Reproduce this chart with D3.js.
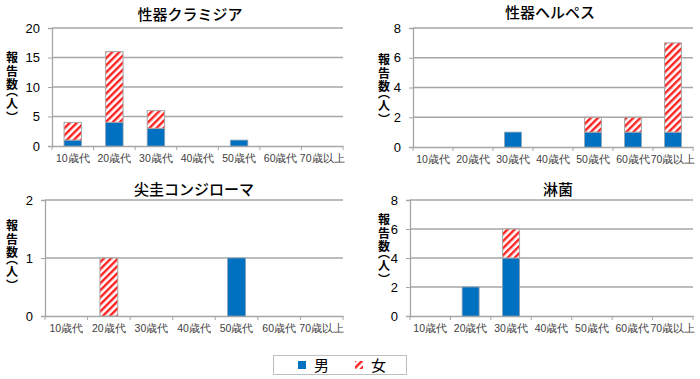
<!DOCTYPE html>
<html>
<head>
<meta charset="utf-8">
<script src="https://cdn.jsdelivr.net/npm/d3@7"></script>
<style>
  body { margin: 0; background: #fff; }
  svg { display: block; font-family: 'Noto Sans CJK JP', sans-serif; }
</style>
</head>
<body>
<svg id="chart" width="700" height="379"></svg>
<script>
const ageGroups = ['10歳代', '20歳代', '30歳代', '40歳代', '50歳代', '60歳代', '70歳以上']

const chlamydiaMale = [1, 4, 3, 0, 1, 0, 0]
const chlamydiaFemale = [3, 12, 3, 0, 0, 0, 0]

const herpesMale = [0, 0, 1, 0, 1, 1, 1]
const herpesFemale = [0, 0, 0, 0, 1, 1, 6]

const condylomaMale = [0, 0, 0, 0, 1, 0, 0]
const condylomaFemale = [0, 1, 0, 0, 0, 0, 0]

const gonorrheaMale = [0, 2, 4, 0, 0, 0, 0]
const gonorrheaFemale = [0, 0, 2, 0, 0, 0, 0]

const legendLabels = ['男', '女']

// vertical axis title, one glyph per entry
const yLabelChars = ['報', '告', '数', '︵', '人', '︶']

const blue = '#0070c0'
const grid = '#a6a6a6'

const svg = d3.select('#chart')

svg.append('defs').append('pattern')
  .attr('id', 'hatch')
  .attr('patternUnits', 'userSpaceOnUse')
  .attr('width', 5)
  .attr('height', 5)
  .attr('patternTransform', 'rotate(45)')
  .call(p => {
    p.append('rect').attr('width', 5).attr('height', 5).attr('fill', '#fff')
    p.append('rect').attr('width', 2.4).attr('height', 5).attr('fill', '#ff2020')
  })

const panels = [
  { title: '性器クラミジア', male: chlamydiaMale, female: chlamydiaFemale, max: 20, step: 5,
    left: 52, right: 343, top: 28, bottom: 146, titleX: 190, titleY: 20, labelX: 12, labelTop: 51 },
  { title: '性器ヘルペス', male: herpesMale, female: herpesFemale, max: 8, step: 2,
    left: 413, right: 693, top: 28, bottom: 147, titleX: 550, titleY: 18, labelX: 384, labelTop: 53 },
  { title: '尖圭コンジローマ', male: condylomaMale, female: condylomaFemale, max: 2, step: 1,
    left: 45, right: 343, top: 200, bottom: 316, titleX: 194, titleY: 195, labelX: 12, labelTop: 219 },
  { title: '淋菌', male: gonorrheaMale, female: gonorrheaFemale, max: 8, step: 2,
    left: 410, right: 693, top: 200, bottom: 316, titleX: 558, titleY: 195, labelX: 384, labelTop: 213 }
]

// baseline steps between glyphs; vertical paren forms sit in half of their em box
const charSteps = [11, 13.5, 13.5, 7, 12, 13.5]

panels.forEach(p => {
  const g = svg.append('g')

  const x = d3.scaleBand(ageGroups, [p.left, p.right])
  const y = d3.scaleLinear([0, p.max], [p.bottom, p.top])
  const yTicks = d3.range(0, p.max + p.step / 2, p.step)

  // gridlines
  g.append('g')
    .selectAll('line')
    .data(yTicks.slice(1))
    .join('line')
    .attr('x1', p.left)
    .attr('x2', p.right)
    .attr('y1', d => y(d))
    .attr('y2', d => y(d))
    .attr('stroke', grid)
    .attr('stroke-width', 1.3)

  const yAxis = d3.axisLeft(y).tickValues(yTicks).tickFormat(d3.format('d')).tickSize(4).tickPadding(8)
  g.append('g')
    .attr('transform', `translate(${p.left},0)`)
    .call(yAxis)
    .call(a => a.select('.domain').attr('stroke', grid).attr('stroke-width', 1.3))
    .call(a => a.selectAll('.tick line').attr('stroke', grid))
    .call(a => a.selectAll('text').attr('font-size', 13).attr('fill', '#000')
      .attr('font-family', 'Liberation Sans, sans-serif'))

  const xAxis = d3.axisBottom(x).tickSize(0).tickPadding(9)
  g.append('g')
    .attr('transform', `translate(0,${p.bottom})`)
    .call(xAxis)
    .call(a => a.select('.domain').attr('stroke', grid).attr('stroke-width', 1.3))
    .call(a => a.selectAll('text').attr('font-size', 10.5).attr('fill', '#404040'))

  g.append('g')
    .selectAll('line')
    .data(ageGroups.map(d => x(d)).concat([p.right]))
    .join('line')
    .attr('x1', d => d)
    .attr('x2', d => d)
    .attr('y1', p.bottom)
    .attr('y2', p.bottom + 4)
    .attr('stroke', grid)

  const bw = x.bandwidth() * 0.42
  const offset = (x.bandwidth() - bw) / 2

  g.append('g')
    .selectAll('rect')
    .data(ageGroups.map((a, i) => ({ a, m: p.male[i] })).filter(d => d.m > 0))
    .join('rect')
    .attr('x', d => x(d.a) + offset)
    .attr('width', bw)
    .attr('y', d => y(d.m))
    .attr('height', d => y(0) - y(d.m))
    .attr('fill', blue)
    .attr('stroke', '#8c9fb0')
    .attr('stroke-width', 0.8)

  g.append('g')
    .selectAll('rect')
    .data(ageGroups.map((a, i) => ({ a, m: p.male[i], f: p.female[i] })).filter(d => d.f > 0))
    .join('rect')
    .attr('x', d => x(d.a) + offset)
    .attr('width', bw)
    .attr('y', d => y(d.m + d.f))
    .attr('height', d => y(d.m) - y(d.m + d.f))
    .attr('fill', 'url(#hatch)')
    .attr('stroke', '#a6a6a6')
    .attr('stroke-width', 1)

  g.append('text')
    .attr('x', p.titleX)
    .attr('y', p.titleY)
    .attr('text-anchor', 'middle')
    .attr('font-size', 15)
    .attr('font-weight', 500)
    .text(p.title)

  // y label stacked as one text element
  g.append('text')
    .attr('y', p.labelTop)
    .attr('text-anchor', 'middle')
    .attr('font-size', 12)
    .attr('font-weight', 700)
    .selectAll('tspan')
    .data(yLabelChars)
    .join('tspan')
    .attr('x', p.labelX)
    .attr('dy', (d, i) => charSteps[i])
    .text(d => d)
})

// legend
const legend = svg.append('g')
legend.append('rect')
  .attr('x', 273.5).attr('y', 355.5).attr('width', 133).attr('height', 19)
  .attr('fill', '#fff').attr('stroke', '#bfbfbf')

legendLabels.forEach((label, i) => {
  const lx = 298 + i * 57
  legend.append('rect')
    .attr('x', lx).attr('y', 361).attr('width', 8).attr('height', 8)
    .attr('fill', i === 0 ? blue : 'url(#hatch)')
  legend.append('text')
    .attr('x', lx + 16).attr('y', 370.5)
    .attr('font-size', 15)
    .text(label)
})
</script>
</body>
</html>
